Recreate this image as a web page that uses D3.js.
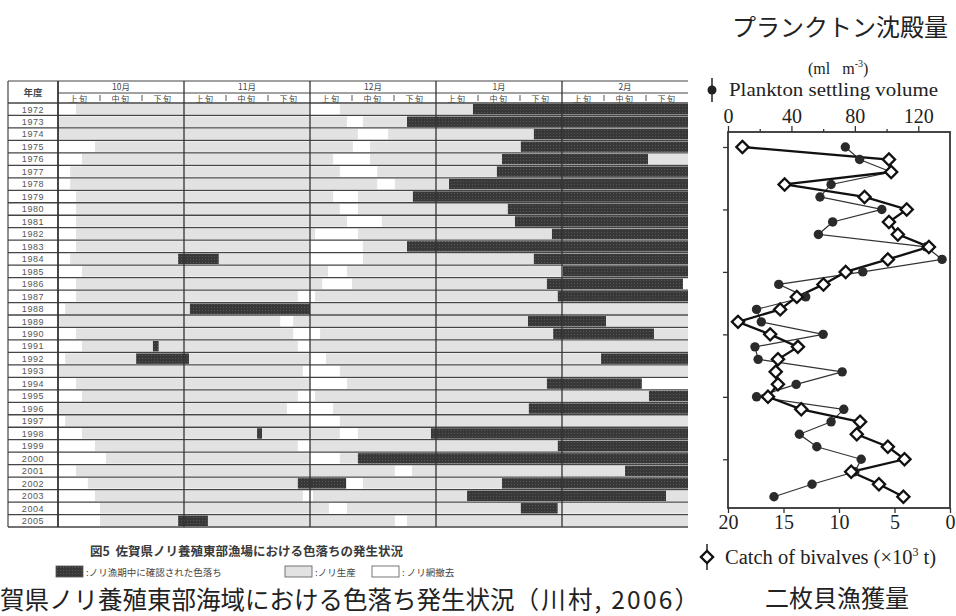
<!DOCTYPE html>
<html>
<head>
<meta charset="utf-8">
<script src="https://cdn.jsdelivr.net/npm/d3@7/dist/d3.min.js"></script>
<style>
  body { margin: 0; background: #fff; }
  svg { display: block; }
</style>
</head>
<body>
<svg id="chart" width="956" height="616"></svg>
<script>
// ---------- Nori season table (Oct - Feb, by 旬 = ten-day period) ----------
const seasonYears = [1972, 1973, 1974, 1975, 1976, 1977, 1978, 1979, 1980, 1981,
  1982, 1983, 1984, 1985, 1986, 1987, 1988, 1989, 1990, 1991, 1992, 1993, 1994,
  1995, 1996, 1997, 1998, 1999, 2000, 2001, 2002, 2003, 2004, 2005];
const monthLabels = ["10月", "11月", "12月", "1月", "2月"];
const dekadLabels = ["上旬", "中旬", "下旬"];

// Periods per season in 旬 counted from 1 Oct: "g" = ノリ生産, "d" = 色落ち.
// Anything not covered is ノリ網撤去 (left blank).
const noriPeriods = [
  [["g", 0.43, 6.0], ["g", 6.71, 9.88], ["d", 9.88, 15]],                       // 1972
  [["g", 0, 6.88], ["g", 7.26, 8.31], ["d", 8.31, 15]],                          // 1973
  [["g", 0, 7.14], ["g", 7.86, 11.33], ["d", 11.33, 15]],                        // 1974
  [["g", 0.88, 7.02], ["g", 7.43, 11.02], ["d", 11.02, 15]],                     // 1975
  [["g", 0.57, 6.55], ["g", 7.43, 10.57], ["d", 10.57, 14.05], ["g", 14.05, 15]],// 1976
  [["g", 0.29, 6.71], ["g", 7.6, 10.45], ["d", 10.45, 15]],                      // 1977
  [["g", 0.29, 7.6], ["g", 8.02, 9.31], ["d", 9.31, 15]],                        // 1978
  [["g", 0.43, 6.55], ["g", 7.14, 8.45], ["d", 8.45, 15]],                       // 1979
  [["g", 0.43, 6.71], ["g", 7.14, 10.71], ["d", 10.71, 15]],                     // 1980
  [["g", 0.43, 6.88], ["g", 7.71, 10.88], ["d", 10.88, 15]],                     // 1981
  [["g", 0.43, 6.12], ["g", 7.14, 11.76], ["d", 11.76, 15]],                     // 1982
  [["g", 0.43, 6.0], ["g", 7.26, 8.31], ["d", 8.31, 15]],                        // 1983
  [["g", 0.29, 2.86], ["d", 2.86, 3.83], ["g", 3.83, 6.0], ["g", 7.26, 11.33], ["d", 11.33, 15]], // 1984
  [["g", 0.57, 6.43], ["g", 6.88, 12.02], ["d", 12.02, 15]],                     // 1985
  [["g", 0.43, 6.29], ["g", 7.0, 11.64], ["d", 11.64, 14.88]],                   // 1986
  [["g", 0.43, 5.71], ["g", 6.12, 11.9], ["d", 11.9, 15]],                       // 1987
  [["g", 0.17, 3.14], ["d", 3.14, 6.0], ["g", 6.0, 15]],                         // 1988
  [["g", 0, 5.29], ["g", 5.6, 11.19], ["d", 11.19, 13.05], ["g", 13.05, 15]],    // 1989
  [["g", 0.43, 5.6], ["g", 6.24, 11.79], ["d", 11.79, 14.19], ["g", 14.19, 15]], // 1990
  [["g", 0.57, 2.26], ["d", 2.26, 2.4], ["g", 2.4, 5.71], ["g", 6.0, 15]],       // 1991
  [["g", 0.17, 1.86], ["d", 1.86, 3.12], ["g", 3.12, 6.0], ["g", 6.38, 12.93], ["d", 12.93, 15]], // 1992
  [["g", 0, 5.83], ["g", 6.71, 15]],                                             // 1993
  [["g", 0.43, 6.0], ["g", 6.88, 11.64], ["d", 11.64, 13.9]],                    // 1994
  [["g", 0.57, 5.71], ["g", 6.12, 14.07], ["d", 14.07, 15]],                     // 1995
  [["g", 0, 5.45], ["g", 6.55, 11.21], ["d", 11.21, 15]],                        // 1996
  [["g", 0.17, 6.0], ["g", 6.71, 15]],                                           // 1997
  [["g", 0.57, 4.74], ["d", 4.74, 4.86], ["g", 4.86, 6.71], ["g", 7.14, 8.88], ["d", 8.88, 15]], // 1998
  [["g", 0.88, 5.71], ["g", 6.0, 11.9], ["d", 11.9, 15]],                        // 1999
  [["g", 1.14, 6.0], ["g", 6.71, 7.14], ["d", 7.14, 15]],                        // 2000
  [["g", 0.43, 8.02], ["g", 8.43, 13.5], ["d", 13.5, 15]],                       // 2001
  [["g", 0.71, 5.71], ["d", 5.71, 6.86], ["g", 7.26, 10.57], ["d", 10.57, 15]],  // 2002
  [["g", 0.88, 5.83], ["g", 6.07, 9.74], ["d", 9.74, 14.48], ["g", 14.48, 15]],  // 2003
  [["g", 1.0, 6.45], ["g", 6.88, 11.02], ["d", 11.02, 11.9], ["g", 11.9, 15]],   // 2004
  [["g", 1.0, 2.86], ["d", 2.86, 3.57], ["g", 3.57, 8.02], ["g", 8.31, 15]]      // 2005
];

const tableCaption = "図5\u00a0\u00a0佐賀県ノリ養殖東部漁場における色落ちの発生状況";
const legendLabels = [":ノリ漁期中に確認された色落ち", ":ノリ生産", ": ノリ網撤去"];
const mainTitle = "佐賀県ノリ養殖東部海域における色落ち発生状況";
const mainTitleSource = "（川村, 2006）";

// ---------- Plankton settling volume vs catch of bivalves ----------
const trendYears = [1972, 1973, 1974, 1975, 1976, 1977, 1978, 1979, 1980, 1981,
  1982, 1983, 1984, 1985, 1986, 1987, 1988, 1989, 1990, 1991, 1992, 1993, 1994,
  1995, 1996, 1997, 1998, 1999, 2000];
const planktonVolume = [74, 83, 103, 65, 58, 97, 66, 57, 125, 135,
  85, 32, 49, 18, 21, 60, 17, 19, 72, 43, 18, 73, 65,
  45, 56, 84, 80, 53, 29];
const bivalveCatch = [18.7, 5.5, 5.3, 14.9, 7.7, 3.9, 5.5, 4.7, 1.9, 5.6,
  9.4, 11.4, 13.8, 15.3, 19.1, 16.2, 13.7, 15.5, 15.7, 15.5, 16.4, 13.4, 8.1,
  8.4, 5.6, 4.1, 8.9, 6.4, 4.2];
const planktonTicks = [0, 40, 80, 120];
const planktonMinorTicks = [20, 60, 100];
const catchTicks = [20, 15, 10, 5, 0];
const yearTicks = [1972, 1977, 1982, 1987, 1992, 1997];

const svg = d3.select("#chart");
const JP = "'Noto Sans CJK JP', 'Noto Sans', sans-serif";
const SERIF = "'Liberation Serif', 'DejaVu Serif', serif";
const SANS = "'Liberation Sans', Arial, sans-serif";

// textures
const defs = svg.append("defs");
const fadeTex = defs.append("pattern").attr("id", "fadeTex")
  .attr("width", 3).attr("height", 3).attr("patternUnits", "userSpaceOnUse");
fadeTex.append("rect").attr("width", 3).attr("height", 3).attr("fill", "#383838");
fadeTex.append("rect").attr("x", 1).attr("y", 1).attr("width", 1).attr("height", 1).attr("fill", "#565656");

// ===== Left: table =====
const xD = d3.scaleLinear().domain([0, 15]).range([58, 688]);
const yR = d3.scaleBand().domain(seasonYears).range([103, 527]);
const tableLeft = 8, headTop = 81, headMid = 93;
const lineCol = "#444";

const left = svg.append("g");

// bars
const rows = left.append("g").selectAll("g").data(seasonYears).join("g");
rows.selectAll("rect")
  .data((yr, i) => noriPeriods[i].map(p => ({ yr, code: p[0], a: p[1], b: p[2] })))
  .join("rect")
  .attr("x", d => xD(d.a))
  .attr("width", d => xD(d.b) - xD(d.a))
  .attr("y", d => yR(d.yr) + 1)
  .attr("height", yR.bandwidth() - 2)
  .attr("fill", d => d.code === "d" ? "url(#fadeTex)" : "#e2e2e2");

// row separators
const rowEdges = seasonYears.map(y => yR(y)).concat([yR.range()[1]]);
left.append("g").selectAll("line").data(rowEdges).join("line")
  .attr("x1", tableLeft).attr("x2", xD(15))
  .attr("y1", d => d).attr("y2", d => d)
  .attr("stroke", lineCol).attr("stroke-width", 1.3);

// header lines
left.append("line").attr("x1", tableLeft).attr("x2", xD(15))
  .attr("y1", headTop).attr("y2", headTop).attr("stroke", lineCol).attr("stroke-width", 1.2);
left.append("line").attr("x1", xD(0)).attr("x2", xD(15))
  .attr("y1", headMid).attr("y2", headMid).attr("stroke", lineCol).attr("stroke-width", 1);

// vertical lines: table edge, year column, months
left.append("line").attr("x1", tableLeft).attr("x2", tableLeft)
  .attr("y1", headTop).attr("y2", yR.range()[1]).attr("stroke", lineCol).attr("stroke-width", 1.2);
left.append("g").selectAll("line").data([0, 3, 6, 9, 12]).join("line")
  .attr("x1", d => xD(d)).attr("x2", d => xD(d))
  .attr("y1", headTop).attr("y2", yR.range()[1])
  .attr("stroke", "#333").attr("stroke-width", d => d === 0 ? 1.8 : 1.3);

// dekad dividers in header
const dekadIdx = d3.range(15);
left.append("g").selectAll("line").data(dekadIdx.filter(i => i % 3 !== 0)).join("line")
  .attr("x1", d => xD(d)).attr("x2", d => xD(d))
  .attr("y1", headMid + 2).attr("y2", yR.range()[0] - 2)
  .attr("stroke", "#555").attr("stroke-width", 1);

// header text
left.append("text").attr("x", (tableLeft + xD(0)) / 2).attr("y", 96)
  .attr("text-anchor", "middle").attr("font-family", JP).attr("font-size", 9.5)
  .attr("font-weight", "bold").attr("fill", "#444").text("年度");
left.append("g").selectAll("text").data(monthLabels).join("text")
  .attr("x", (d, i) => xD(i * 3 + 1.5)).attr("y", 89.5)
  .attr("text-anchor", "middle").attr("font-family", JP).attr("font-size", 8.5)
  .attr("fill", "#444").text(d => d);
left.append("g").selectAll("text").data(dekadIdx).join("text")
  .attr("x", d => xD(d + 0.5)).attr("y", 101.8)
  .attr("text-anchor", "middle").attr("font-family", JP).attr("font-size", 8)
  .attr("letter-spacing", 1.5).attr("fill", "#444").text(d => dekadLabels[d % 3]);

// year labels
left.append("g").selectAll("text").data(seasonYears).join("text")
  .attr("x", (tableLeft + xD(0)) / 2)
  .attr("y", d => yR(d) + yR.bandwidth() / 2 + 3.3)
  .attr("text-anchor", "middle").attr("font-family", SANS).attr("font-size", 9)
  .attr("letter-spacing", 0.6).attr("fill", "#555").text(d => d);

// caption & legend
left.append("text").attr("x", 90).attr("y", 556)
  .attr("font-family", JP).attr("font-size", 12.5).attr("font-weight", "bold")
  .attr("fill", "#3a3a3a").text(tableCaption);
const legendItems = [
  { x: 56, fill: "url(#fadeTex)", label: legendLabels[0] },
  { x: 285, fill: "#e2e2e2", label: legendLabels[1] },
  { x: 372, fill: "#fff", label: legendLabels[2] }
];
const lg = left.append("g").selectAll("g").data(legendItems).join("g")
  .attr("transform", d => `translate(${d.x},566)`);
lg.append("rect").attr("width", 27).attr("height", 11)
  .attr("fill", d => d.fill).attr("stroke", "#555").attr("stroke-width", 0.8);
lg.append("text").attr("x", 30).attr("y", 9.5)
  .attr("font-family", JP).attr("font-size", 9.5).attr("fill", "#444").text(d => d.label);

// big title: its first character sits just past the left edge
const titleSize = 24.5;
const title = svg.append("text").attr("x", -titleSize).attr("y", 609)
  .attr("font-family", JP).attr("font-size", titleSize).attr("fill", "#222");
title.append("tspan").text(mainTitle);
title.append("tspan").attr("letter-spacing", 2.2).text(mainTitleSource);

// ===== Right: line chart =====
const xP = d3.scaleLinear().domain([0, 140]).range([728, 950]);
const xB = d3.scaleLinear().domain([20, 0]).range([728, 950]);
const yT = d3.scaleLinear().domain([1970.8, 2000.9]).range([132, 508]);
const right = svg.append("g");

function styleAxis(g) {
  g.select(".domain").remove();
  g.selectAll(".tick line").attr("stroke", "#333").attr("stroke-width", 1.3);
  g.selectAll(".tick text").attr("font-family", SERIF).attr("font-size", 20).attr("fill", "#222");
}
right.append("g").attr("transform", "translate(0,132)")
  .call(d3.axisTop(xP).tickValues(planktonTicks).tickSize(6).tickPadding(3).tickFormat(d3.format("d")))
  .call(styleAxis);
right.append("g").attr("transform", "translate(0,132)")
  .call(d3.axisTop(xP).tickValues(planktonMinorTicks).tickSize(3).tickFormat(""))
  .call(styleAxis);
right.append("g").attr("transform", "translate(0,508)")
  .call(d3.axisBottom(xB).tickValues(catchTicks).tickSize(5).tickPadding(2).tickFormat(d3.format("d")))
  .call(styleAxis);
right.append("g").attr("transform", "translate(728,0)")
  .call(d3.axisLeft(yT).tickValues(yearTicks).tickSize(5).tickFormat(""))
  .call(styleAxis);

// frame
right.append("rect").attr("x", 728).attr("y", 132).attr("width", 222).attr("height", 376)
  .attr("fill", "none").attr("stroke", "#333").attr("stroke-width", 1.8);

// plankton series
const plankPts = trendYears.map((y, i) => [xP(planktonVolume[i]), yT(y)]);
right.append("path").attr("d", d3.line()(plankPts))
  .attr("fill", "none").attr("stroke", "#333").attr("stroke-width", 1.2);
// bivalve series
const catchPts = trendYears.map((y, i) => [xB(bivalveCatch[i]), yT(y)]);
right.append("path").attr("d", d3.line()(catchPts))
  .attr("fill", "none").attr("stroke", "#111").attr("stroke-width", 2.3);

right.append("g").selectAll("circle").data(plankPts).join("circle")
  .attr("cx", d => d[0]).attr("cy", d => d[1]).attr("r", 4.7).attr("fill", "#2a2a2a");

const diamondPath = d3.symbol().type(d3.symbolSquare2).size(95);
right.append("g").selectAll("path").data(catchPts).join("path")
  .attr("d", diamondPath)
  .attr("transform", d => `translate(${d[0]},${d[1]}) rotate(45)`)
  .attr("fill", "#fff").attr("stroke", "#111").attr("stroke-width", 2.3);

// titles and legends
right.append("text").attr("x", 948).attr("y", 36).attr("text-anchor", "end")
  .attr("font-family", JP).attr("font-size", 24).attr("fill", "#222").text("プランクトン沈殿量");
const unit = right.append("text").attr("x", 808).attr("y", 74)
  .attr("font-family", SERIF).attr("font-size", 16).attr("fill", "#222");
unit.append("tspan").text("(ml\u00a0\u00a0\u00a0m");
unit.append("tspan").attr("font-size", 10).attr("dy", -7).text("-3");
unit.append("tspan").attr("dy", 7).text(")");

right.append("line").attr("x1", 712).attr("x2", 712).attr("y1", 78).attr("y2", 102)
  .attr("stroke", "#222").attr("stroke-width", 1.5);
right.append("circle").attr("cx", 712).attr("cy", 90).attr("r", 4.5).attr("fill", "#222");
right.append("text").attr("x", 729).attr("y", 96)
  .attr("font-family", SERIF).attr("font-size", 19.5).attr("fill", "#222")
  .attr("textLength", 209).attr("lengthAdjust", "spacingAndGlyphs")
  .text("Plankton settling volume");

right.append("line").attr("x1", 707).attr("x2", 707).attr("y1", 544).attr("y2", 570)
  .attr("stroke", "#222").attr("stroke-width", 1.5);
right.append("path").attr("d", diamondPath)
  .attr("transform", "translate(707,557) rotate(45)")
  .attr("fill", "#fff").attr("stroke", "#111").attr("stroke-width", 2.3);
const cat = right.append("text").attr("x", 725).attr("y", 564)
  .attr("font-family", SERIF).attr("font-size", 20.5).attr("fill", "#222");
cat.append("tspan").text("Catch of bivalves (×10");
cat.append("tspan").attr("font-size", 12).attr("dy", -8).text("3");
cat.append("tspan").attr("dy", 8).text("\u00a0t)");

right.append("text").attr("x", 837).attr("y", 607).attr("text-anchor", "middle")
  .attr("font-family", JP).attr("font-size", 24).attr("fill", "#222").text("二枚貝漁獲量");
</script>
</body>
</html>
